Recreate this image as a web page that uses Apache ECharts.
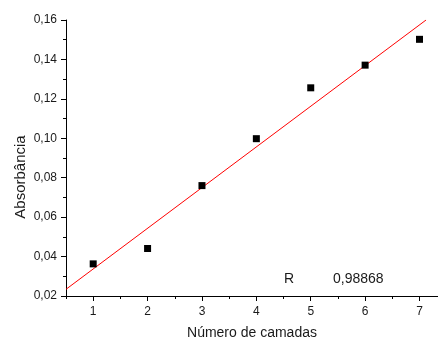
<!DOCTYPE html>
<html><head><meta charset="utf-8">
<script src="https://cdn.jsdelivr.net/npm/echarts@6/dist/echarts.min.js"></script>
<style>html,body{margin:0;padding:0;background:#fff}#c{width:438px;height:338px}</style>
</head><body><div id="c"></div>
<script>
const layers = [1, 2, 3, 4, 5, 6, 7];
const absorbance = [0.0363, 0.0441, 0.0760, 0.0998, 0.1256, 0.1371, 0.1502];
const fitLine = [[0.5, 0.0234], [7.12, 0.16]];
const xTicks = [1, 2, 3, 4, 5, 6, 7];
const xMinorTicks = [0.5, 1.5, 2.5, 3.5, 4.5, 5.5, 6.5];
const xTitle = 'Número de camadas';
const yTitle = 'Absorbância';
const rLabel = 'R';
const rValue = '0,98868';

const font = 'Liberation Sans, Arial, sans-serif';
const chart = echarts.init(document.getElementById('c'));
const xMin = 0.5, xMax = 7.34;
chart.setOption({
  animation: false,
  grid: { left: 66, right: 0, top: 20, bottom: 42, containLabel: false, outerBoundsMode: 'none' },
  xAxis: [{
    type: 'value', min: xMin, max: xMax,
    name: xTitle, nameLocation: 'middle', nameGap: 30,
    nameTextStyle: { color: '#1a1a1a', fontSize: 14, fontFamily: font },
    axisLine: { lineStyle: { color: '#000', width: 1 } },
    axisTick: { show: true, length: 5, customValues: xTicks, lineStyle: { color: '#000' } },
    axisLabel: { customValues: xTicks, color: '#1a1a1a', fontSize: 12, fontFamily: font, margin: 10 },
    splitLine: { show: false }
  }, {
    type: 'value', min: xMin, max: xMax, position: 'bottom',
    axisLine: { show: false },
    axisTick: { show: true, length: 3, customValues: xMinorTicks, lineStyle: { color: '#000' } },
    axisLabel: { show: false, customValues: xMinorTicks },
    splitLine: { show: false }
  }],
  yAxis: {
    type: 'value', min: 0.02, max: 0.16, interval: 0.02,
    axisLine: { show: true, lineStyle: { color: '#000', width: 1 } },
    axisTick: { show: true, length: 5, lineStyle: { color: '#000' } },
    minorTick: { show: true, splitNumber: 2, length: 3, lineStyle: { color: '#000' } },
    axisLabel: {
      color: '#1a1a1a', fontSize: 12, fontFamily: font, margin: 9,
      formatter: v => v.toFixed(2).replace('.', ',')
    },
    splitLine: { show: false }
  },
  series: [{
    type: 'line', data: fitLine, showSymbol: false, symbol: 'none',
    lineStyle: { color: '#ff0000', width: 1 }, silent: true, z: 2
  }, {
    type: 'scatter', data: layers.map((x, i) => [x, absorbance[i]]),
    symbol: 'rect', symbolSize: 7, itemStyle: { color: '#000', opacity: 1 }, z: 3
  }],
  graphic: [
    { type: 'text', x: 21, y: 177, rotation: Math.PI / 2,
      style: { text: yTitle, fill: '#1a1a1a', fontSize: 15, fontFamily: font, align: 'center', verticalAlign: 'middle' } },
    { type: 'text', left: 284, top: 272, style: { text: rLabel, fill: '#1a1a1a', fontSize: 14, fontFamily: font } },
    { type: 'text', left: 333, top: 272, style: { text: rValue, fill: '#1a1a1a', fontSize: 14, fontFamily: font } }
  ]
});
</script></body></html>
